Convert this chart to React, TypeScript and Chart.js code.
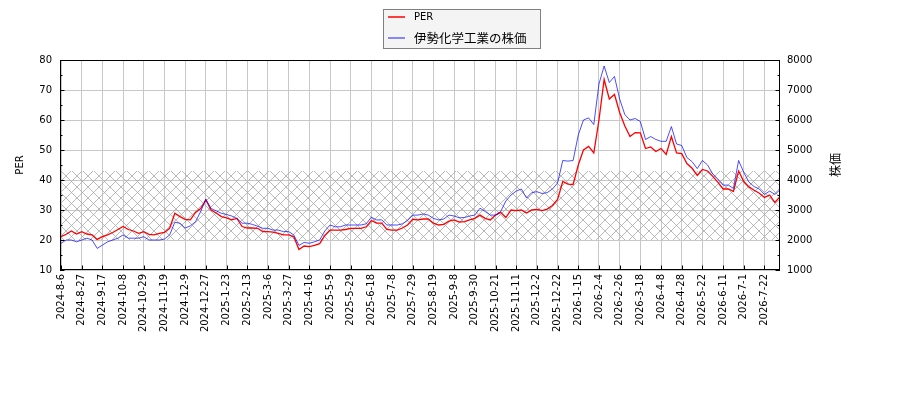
import React, { useEffect, useRef } from 'react';
import { Chart, ChartConfiguration, Plugin, registerables } from 'chart.js';

Chart.register(...registerables);

// date ticks, one every 14 trading days
const TICK_LABELS = [
  '2024-8-6', '2024-8-27', '2024-9-17', '2024-10-8', '2024-10-29', '2024-11-19', '2024-12-9',
  '2024-12-27', '2025-1-23', '2025-2-13', '2025-3-6', '2025-3-27', '2025-4-16', '2025-5-9',
  '2025-5-29', '2025-6-18', '2025-7-8', '2025-7-29', '2025-8-19', '2025-9-8', '2025-9-30',
  '2025-10-21', '2025-11-11', '2025-12-2', '2025-12-22', '2026-1-15', '2026-2-4', '2026-2-26',
  '2026-3-18', '2026-4-8', '2026-4-28', '2026-5-22', '2026-6-11', '2026-7-1', '2026-7-22'
];
const TICK_EVERY = 14;
const SAMPLE_STEP = 3.5; // trading days between samples below

const PER_VALUES = [
  21.1, 21.9, 23.0, 22.0, 22.8, 22.0, 21.7, 20.2, 21.1, 21.7,
  22.5, 23.5, 24.5, 23.5, 23.0, 22.2, 22.8, 21.9, 21.7, 22.2,
  22.5, 23.9, 28.9, 27.8, 26.9, 26.7, 29.2, 30.5, 33.4, 30.0,
  29.0, 27.8, 27.4, 26.7, 27.2, 24.5, 24.0, 24.0, 23.9, 22.8,
  22.8, 22.6, 22.2, 21.7, 21.7, 21.1, 16.8, 18.0, 17.8, 18.2,
  18.8, 21.5, 23.3, 23.3, 23.3, 23.5, 23.9, 23.9, 23.9, 24.4,
  26.5, 25.6, 25.6, 23.5, 23.3, 23.3, 24.0, 25.0, 26.9, 26.7,
  27.0, 27.0, 25.6, 25.0, 25.2, 26.3, 26.7, 26.0, 26.1, 26.7,
  27.2, 28.3, 27.2, 26.7, 28.3, 29.2, 27.5, 30.0, 29.8, 30.0,
  29.0, 30.0, 30.2, 29.8, 30.3, 31.5, 33.5, 39.5, 38.6, 38.5,
  45.0, 50.0, 51.2, 49.0, 60.0, 73.5, 67.0, 68.5, 62.5, 58.0,
  54.5, 55.8, 55.7, 50.5, 51.0, 49.5, 50.5, 48.5, 54.5, 49.0,
  48.8, 45.5, 43.9, 41.5, 43.5, 43.0, 41.2, 39.2, 37.0, 37.0,
  36.2, 43.0, 39.5, 37.7, 36.6, 35.6, 34.2, 35.0, 32.5, 34.4
];

const PRICE_VALUES = [
  1890, 2000, 2000, 1940, 2000, 2060, 2000, 1720, 1830, 1940,
  2000, 2060, 2170, 2060, 2060, 2060, 2110, 2000, 2000, 2000,
  2030, 2170, 2590, 2560, 2400, 2470, 2610, 2950, 3360, 3050,
  2970, 2890, 2850, 2800, 2720, 2560, 2560, 2520, 2460, 2390,
  2390, 2330, 2330, 2280, 2280, 2170, 1820, 1920, 1890, 1940,
  2000, 2300, 2500, 2440, 2440, 2500, 2500, 2500, 2500, 2540,
  2760, 2670, 2670, 2500, 2500, 2500, 2540, 2650, 2830, 2830,
  2870, 2830, 2720, 2670, 2700, 2830, 2800, 2740, 2750, 2800,
  2830, 3060, 2950, 2830, 2830, 2950, 3300, 3500, 3630, 3700,
  3400, 3580, 3610, 3550, 3580, 3700, 3900, 4650, 4630, 4650,
  5500, 6000, 6070, 5850, 7200, 7800, 7250, 7450, 6700, 6180,
  6000, 6050, 5950, 5350, 5450, 5350, 5290, 5290, 5780, 5200,
  5150, 4750, 4610, 4380, 4650, 4500, 4200, 4020, 3830, 3830,
  3720, 4650, 4250, 3930, 3780, 3700, 3520, 3630, 3520, 3670
];

const PER_BAND = [20, 43];

const FONT = 'DejaVu Sans';
const JP_FONT = '"Noto Sans CJK JP", "DejaVu Sans"';

const makeHatch = (): CanvasPattern | null => {
  const size = 11;
  const c = document.createElement('canvas');
  c.width = size;
  c.height = size;
  const g = c.getContext('2d');
  if (!g) return null;
  g.strokeStyle = '#a8a8a8';
  g.lineWidth = 0.8;
  g.beginPath();
  g.moveTo(0, 0);
  g.lineTo(size, size);
  g.moveTo(0, size);
  g.lineTo(size, 0);
  g.stroke();
  return g.createPattern(c, 'repeat');
};

const decorPlugin: Plugin = {
  id: 'decor',
  beforeDatasetsDraw(chart) {
    const { ctx, chartArea } = chart;
    const y = chart.scales.y;
    const pattern = makeHatch();
    if (!pattern) return;
    const top = y.getPixelForValue(PER_BAND[1]);
    const bottom = y.getPixelForValue(PER_BAND[0]);
    ctx.save();
    ctx.fillStyle = pattern;
    ctx.fillRect(chartArea.left, top, chartArea.right - chartArea.left, bottom - top);
    ctx.restore();
  },
  afterDraw(chart) {
    const { ctx, chartArea } = chart;
    const { left, right, top, bottom } = chartArea;
    const x = chart.scales.x;
    const y = chart.scales.y;
    ctx.save();

    // frame
    ctx.strokeStyle = '#000';
    ctx.lineWidth = 1;
    ctx.strokeRect(left + 0.5, top + 0.5, right - left - 1, bottom - top - 1);

    // inward tick marks
    ctx.beginPath();
    for (let v = 10; v <= 80; v += 5) {
      const py = Math.round(y.getPixelForValue(v)) + 0.5;
      const len = v % 10 === 0 ? 4.5 : 2.5;
      ctx.moveTo(left, py);
      ctx.lineTo(left + len, py);
      ctx.moveTo(right, py);
      ctx.lineTo(right - len, py);
    }
    TICK_LABELS.forEach((_, i) => {
      const px = Math.round(x.getPixelForValue(i * TICK_EVERY)) + 0.5;
      ctx.moveTo(px, bottom);
      ctx.lineTo(px, bottom - 4.5);
    });
    ctx.stroke();

    // axis titles
    ctx.fillStyle = '#000';
    ctx.textAlign = 'center';
    ctx.textBaseline = 'middle';
    const midY = (top + bottom) / 2;
    ctx.save();
    ctx.translate(20, midY);
    ctx.rotate(-Math.PI / 2);
    ctx.font = `10px ${FONT}`;
    ctx.fillText('PER', 0, 0);
    ctx.restore();
    ctx.save();
    ctx.translate(835, midY);
    ctx.rotate(-Math.PI / 2);
    ctx.font = `12px ${JP_FONT}`;
    ctx.fillText('株価', 0, 0);
    ctx.restore();

    // legend
    ctx.fillStyle = '#f4f4f4';
    ctx.fillRect(383.5, 9.5, 157, 39);
    ctx.strokeStyle = '#808080';
    ctx.strokeRect(383.5, 9.5, 157, 39);
    ctx.lineWidth = 1.5;
    ctx.strokeStyle = '#ff0000';
    ctx.beginPath();
    ctx.moveTo(388, 17);
    ctx.lineTo(405, 17);
    ctx.stroke();
    ctx.strokeStyle = 'rgba(0, 0, 255, 0.6)';
    ctx.beginPath();
    ctx.moveTo(388, 38);
    ctx.lineTo(405, 38);
    ctx.stroke();
    ctx.fillStyle = '#000';
    ctx.textAlign = 'left';
    ctx.font = `10px ${FONT}`;
    ctx.fillText('PER', 414, 17);
    ctx.font = `12.5px ${JP_FONT}`;
    ctx.fillText('伊勢化学工業の株価', 414, 38);

    ctx.restore();
  }
};

export default function App() {
  const canvasRef = useRef<HTMLCanvasElement>(null);
  const chartRef = useRef<Chart | null>(null);

  useEffect(() => {
    if (!canvasRef.current) return;
    const ctx = canvasRef.current.getContext('2d');
    if (!ctx) return;

    const perPoints = PER_VALUES.map((v, i) => ({ x: i * SAMPLE_STEP, y: v }));
    const pricePoints = PRICE_VALUES.map((v, i) => ({ x: i * SAMPLE_STEP, y: v }));
    const tickFont = { family: FONT, size: 10 };

    const config: ChartConfiguration<'line'> = {
      type: 'line',
      data: {
        datasets: [
          {
            label: 'PER',
            data: perPoints,
            yAxisID: 'y',
            borderColor: '#ff0000',
            borderWidth: 1.3,
            pointRadius: 0,
            tension: 0,
            order: 1
          },
          {
            label: '伊勢化学工業の株価',
            data: pricePoints,
            yAxisID: 'y1',
            borderColor: 'rgba(0, 0, 255, 0.7)',
            borderWidth: 1,
            pointRadius: 0,
            tension: 0,
            order: 0
          }
        ]
      },
      options: {
        responsive: false,
        animation: false,
        events: [],
        layout: { padding: { top: 60, left: 0, right: 0, bottom: 0 } },
        plugins: {
          legend: { display: false },
          tooltip: { enabled: false }
        },
        scales: {
          x: {
            type: 'linear',
            min: -0.7,
            max: (PER_VALUES.length - 1) * SAMPLE_STEP,
            afterBuildTicks: (scale) => {
              scale.ticks = TICK_LABELS.map((_, i) => ({ value: i * TICK_EVERY }));
            },
            afterFit: (scale) => {
              scale.height = 130;
            },
            ticks: {
              autoSkip: false,
              minRotation: 90,
              maxRotation: 90,
              padding: 4,
              color: '#000',
              font: tickFont,
              callback: (_v, i) => TICK_LABELS[i]
            },
            grid: { color: '#c8c8c8', drawTicks: false },
            border: { display: false }
          },
          y: {
            type: 'linear',
            position: 'left',
            min: 10,
            max: 80,
            afterFit: (scale) => {
              scale.width = 60;
            },
            ticks: { stepSize: 10, padding: 8, color: '#000', font: tickFont, callback: (v) => String(v) },
            grid: { color: '#c8c8c8', drawTicks: false },
            border: { display: false }
          },
          y1: {
            type: 'linear',
            position: 'right',
            min: 1000,
            max: 8000,
            afterFit: (scale) => {
              scale.width = 120;
            },
            ticks: { stepSize: 1000, padding: 7, color: '#000', font: tickFont, callback: (v) => String(v) },
            grid: { display: false, drawTicks: false },
            border: { display: false }
          }
        }
      },
      plugins: [decorPlugin]
    };

    chartRef.current = new Chart(ctx, config);

    return () => {
      if (chartRef.current) {
        chartRef.current.destroy();
        chartRef.current = null;
      }
    };
  }, []);

  return (
    <div style={{ position: 'absolute', left: 0, top: 0, width: 900, height: 400, background: '#fff' }}>
      <canvas ref={canvasRef} width={900} height={400} />
    </div>
  );
}
